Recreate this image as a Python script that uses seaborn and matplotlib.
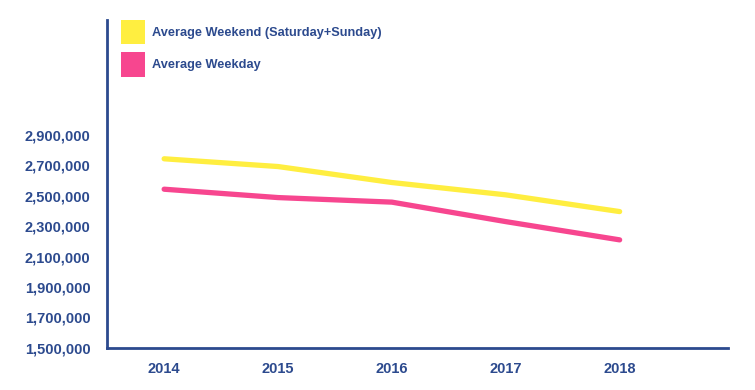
import pandas as pd
import numpy as np
import seaborn as sns
import matplotlib.pyplot as plt
from matplotlib.patches import Patch
from matplotlib.ticker import FuncFormatter

sns.set_style('white')
plt.rcParams['font.family'] = ['Liberation Sans', 'DejaVu Sans']

navy = '#2c4a8e'

# 数据
years = [2014, 2015, 2016, 2017, 2018]
weekend = [2743000, 2692000, 2587000, 2506000, 2396000]
weekday = [2543000, 2488000, 2458000, 2330000, 2210000]
series = ['Average Weekend (Saturday+Sunday)', 'Average Weekday']
colors = ['#ffee40', '#f7468f']

df = pd.DataFrame({
    'year': years * 2,
    'riders': weekend + weekday,
    'series': [series[0]] * len(years) + [series[1]] * len(years),
})

fig = plt.figure(figsize=(7.55, 3.9), dpi=100)
ax = fig.add_axes([0.142, 0.108, 0.822, 0.841])

sns.lineplot(data=df, x='year', y='riders', hue='series', palette=colors,
             linewidth=3.8, ax=ax, legend=False, solid_capstyle='round')

ax.set_xlim(2013.5, 2018.95)
ax.set_ylim(1500000, 3656000)
ax.set_xticks(years)
ax.set_yticks(np.arange(1500000, 2900001, 200000))
ax.yaxis.set_major_formatter(FuncFormatter(lambda v, p: f'{int(v):,}'))
ax.set_xlabel('')
ax.set_ylabel('')

for s in ['top', 'right']:
    ax.spines[s].set_visible(False)
for s in ['left', 'bottom']:
    ax.spines[s].set_color(navy)
    ax.spines[s].set_linewidth(2)

ax.tick_params(length=0, colors=navy, labelsize=10.5)
ax.tick_params(axis='x', pad=10)
ax.tick_params(axis='y', pad=12)
for lab in ax.get_xticklabels() + ax.get_yticklabels():
    lab.set_fontweight('bold')

handles = [Patch(facecolor=c, edgecolor='none') for c in colors]
leg = ax.legend(handles, series, loc='upper left', bbox_to_anchor=(121 / 755, 1 - 20 / 390),
                bbox_transform=fig.transFigure, frameon=False, fontsize=9.2,
                handlelength=1.88, handleheight=2.55, labelspacing=0.62,
                handletextpad=0.55, borderpad=0, borderaxespad=0)
for t in leg.get_texts():
    t.set_color(navy)
    t.set_fontweight('bold')

plt.savefig('out.png', dpi=100)
